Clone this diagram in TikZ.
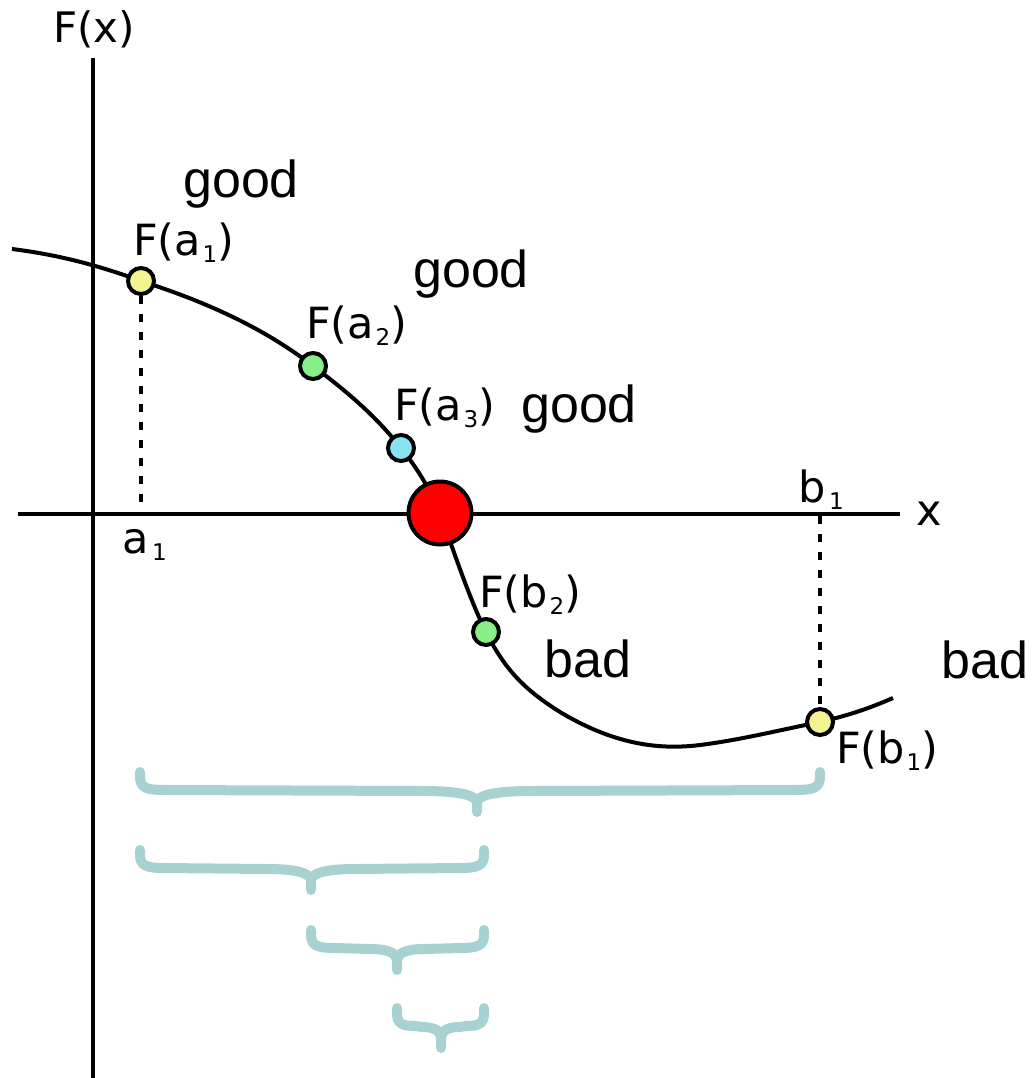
\documentclass[tikz,border=0pt]{standalone}
\usepackage{fontspec}
\setmainfont{DejaVu Sans}
\newfontfamily\arialf{Liberation Sans}
\newcommand\sbs[1]{\kern1.5pt\raisebox{-7pt}{\fontsize{23}{23}\selectfont #1}}
\newcommand\mybrace[4]{%
  \pgfmathsetmacro\hl{#2-#1}\pgfmathsetmacro\hr{#3-#2}%
  \pgfmathsetmacro\cl{min(24,\hl*0.42)}\pgfmathsetmacro\cr{min(24,\hr*0.42)}%
  \pgfmathsetmacro\tl{min(55,10+\hl*0.2)}\pgfmathsetmacro\tr{min(55,10+\hr*0.2)}%
  \draw[tealbrace] (#1,#4) -- (#1,#4+5)
    .. controls (#1,#4+16) and (#1+\cl*0.3,#4+18) .. (#1+\cl,#4+18)
    -- (#2-\tl,#4+19)
    .. controls (#2-\tl*0.25,#4+19) and (#2,#4+24) .. (#2,#4+31)
    -- (#2,#4+40) -- (#2,#4+31)
    .. controls (#2,#4+24) and (#2+\tr*0.25,#4+19) .. (#2+\tr,#4+19)
    -- (#3-\cr,#4+18)
    .. controls (#3-\cr*0.3,#4+18) and (#3,#4+16) .. (#3,#4+5) -- (#3,#4);}
\begin{document}
\begin{tikzpicture}[x=1pt,y=-1pt,
  lbl/.style={inner sep=0pt,anchor=base west,font=\fontsize{43}{50}\selectfont},
  big/.style={inner sep=0pt,anchor=base west,font=\arialf\fontsize{52}{60}\selectfont},
  pt/.style={circle,draw=black,line width=4pt,minimum size=26pt,inner sep=0pt},
  axisl/.style={line width=4pt},
  curvel/.style={line width=4pt},
  dotl/.style={line width=4.5pt,dash pattern=on 8pt off 10pt},
  tealbrace/.style={draw=braceteal,line width=10pt,line cap=round,line join=round}]
\definecolor{braceteal}{HTML}{A8D2D2}
\definecolor{ptyellow}{HTML}{F3F38F}
\definecolor{ptgreen}{HTML}{88EE88}
\definecolor{ptcyan}{HTML}{88E4F0}
\useasboundingbox (0,0) rectangle (1035,1078);
% axes
\coordinate (ytop) at (93,58);
\coordinate (ybot) at (93,1078);
\coordinate (xleft) at (18,514);
\coordinate (xright) at (900,514);
\draw[axisl] (ytop) -- (ybot);
\draw[axisl] (xleft) -- (xright);
% curve points
\coordinate (ca1) at (141,281);
\coordinate (ca2) at (313,366);
\coordinate (ca3) at (401,448);
\coordinate (cr) at (440,513);
\coordinate (cb2) at (486,632);
\coordinate (cb1) at (820,722);
\draw[curvel] (12,249) .. controls (60,255) and (100,266) .. (ca1)
  .. controls (200,300) and (260,325) .. (ca2)
  .. controls (345,390) and (375,415) .. (ca3)
  .. controls (420,472) and (430,490) .. (cr)
  .. controls (455,555) and (470,600) .. (cb2)
  .. controls (505,670) and (525,690) .. (560,712)
  .. controls (615,745) and (660,750) .. (700,745)
  .. controls (740,740) and (780,730) .. (cb1)
  .. controls (850,715) and (870,708) .. (893,698);
% points
\node[pt,fill=ptyellow] (a1pt) at (ca1) {};
\node[pt,fill=ptgreen] (a2pt) at (ca2) {};
\node[pt,fill=ptcyan] (a3pt) at (ca3) {};
\node[pt,fill=red,minimum size=63pt] (root) at (cr) {};
\node[pt,fill=ptgreen] (b2pt) at (cb2) {};
\node[pt,fill=ptyellow] (b1pt) at (cb1) {};
% dotted drops
\coordinate (a1foot) at (141,514);
\coordinate (b1foot) at (820,516);
\draw[dotl] (a1pt) -- (a1foot);
\draw[dotl] (b1foot) -- (b1pt);
% labels
\node[lbl,font=\fontsize{42}{50}\selectfont] (fx) at (53,43) {F(x)};
\node[lbl] (xl) at (916,525) {x};
\node[lbl] (la1) at (133,255) {F(a\sbs{1})};
\node[lbl] (la2) at (306,338) {F(a\sbs{2})};
\node[lbl] (la3) at (394,420) {F(a\sbs{3})};
\node[lbl] (lb2) at (479,607) {F(b\sbs{2})};
\node[lbl] (lb1) at (836,763) {F(b\sbs{1})};
\node[lbl] (ta1) at (122,553) {a\kern2pt\sbs{1}};
\node[lbl] (tb1) at (798,502) {b\kern2pt\sbs{1}};
\node[big] (g1) at (183,197) {good};
\node[big] (g2) at (413,287) {good};
\node[big] (g3) at (521,422) {good};
\node[big] (bad1) at (544,677) {bad};
\node[big] (bad2) at (941,678) {bad};
% braces
\mybrace{140}{477}{820}{772}
\mybrace{140}{311}{484}{850}
\mybrace{311}{397}{484}{930}
\mybrace{397}{441}{484}{1008}
\end{tikzpicture}
\end{document}
